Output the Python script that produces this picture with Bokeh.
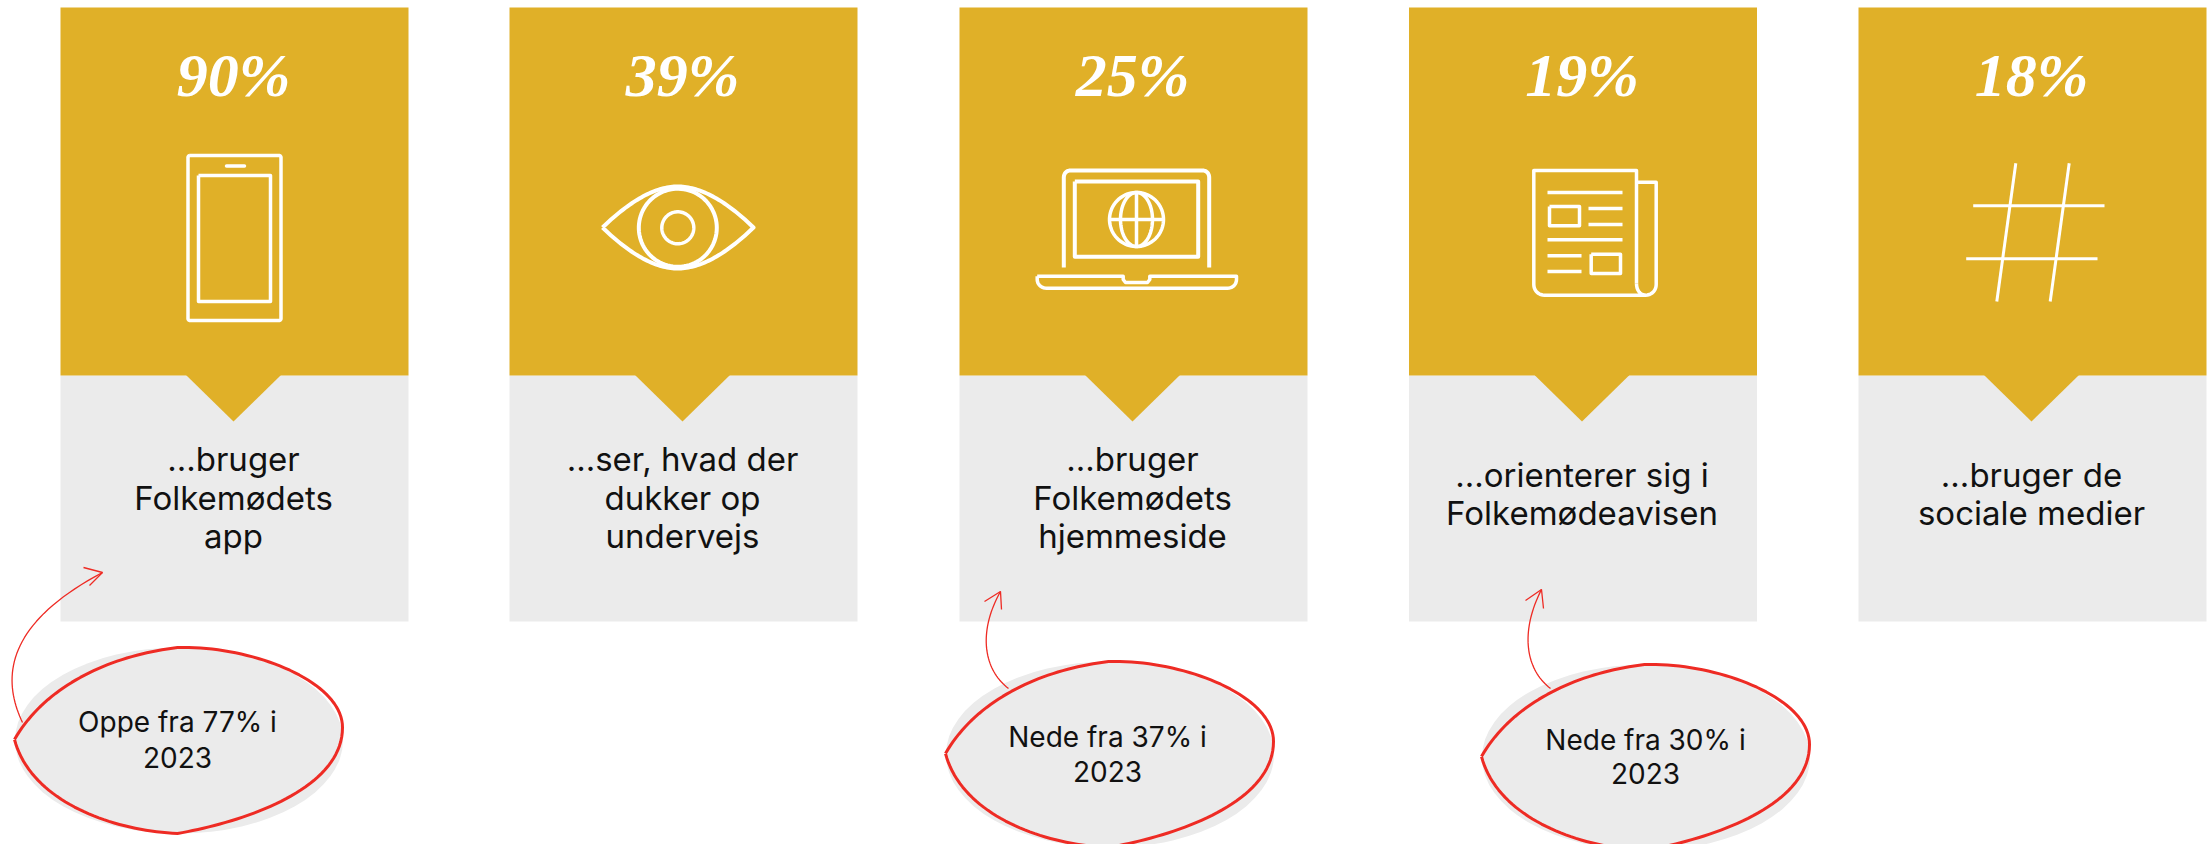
import numpy as np
from bokeh.plotting import figure
from bokeh.models import Range1d
from bokeh.core.properties import value
from bokeh.embed import file_html
from bokeh.resources import INLINE

# ---- data ----
percent_values = [90, 39, 25, 19, 18]
captions = [
    ["...bruger", "Folkemødets", "app"],
    ["...ser, hvad der", "dukker op", "undervejs"],
    ["...bruger", "Folkemødets", "hjemmeside"],
    ["...orienterer sig i", "Folkemødeavisen"],
    ["...bruger de", "sociale medier"],
]
note_lines = [
    ["Oppe fra 77% i", "2023"],
    ["Nede fra 37% i", "2023"],
    ["Nede fra 30% i", "2023"],
]

# ---- style / layout ----
GOLD, GREY, RED, INK, WHITE = "#E0B028", "#EBEBEB", "#EE2B24", "#111111", "#FFFFFF"
SERIF, SANS = "Liberation Serif", "Inter"
PCT_SIZE, CAP_SIZE, NOTE_SIZE = 62, 33, 28
BASE_FIX = 0.36  # the text box sits this far (in em) below the requested baseline
PANEL_LEFT = [60, 509, 959, 1408.5, 1858]
PANEL_W = 348
TOP, SPLIT, BOTTOM = 7, 375, 621
NOTCH_HALF, NOTCH_TIP = 47, 421
NOTE_ORIGIN = [(0, 0), (931, 14), (1467, 17)]
NOTE_TEXT = [(177, 732, 767), (1107, 747, 781), (1645, 750, 783)]

p = figure(width=2209, height=844, output_backend="svg", toolbar_location=None,
           x_range=Range1d(0, 2209), y_range=Range1d(844, 0), min_border=0)
p.axis.visible = False
p.grid.visible = False
p.outline_line_color = None


def bez(a, b, c, d, n=40):
    t = np.linspace(0, 1, n)[:, None]
    a, b, c, d = map(np.array, (a, b, c, d))
    pts = (1-t)**3*a + 3*(1-t)**2*t*b + 3*(1-t)*t**2*c + t**3*d
    return list(pts[:, 0]), list(pts[:, 1])


def chain(*segs):
    xs, ys = [], []
    for sx, sy in segs:
        xs += list(sx)
        ys += list(sy)
    return xs, ys


def stroke(xs, ys, w=3.5, color=WHITE):
    p.line(xs, ys, line_color=color, line_width=w, line_join="round", line_cap="butt")


def rrect(x0, y0, x1, y1, r, w=3.5):
    k = 0.55 * r
    xs, ys = chain(
        ([x0+r, x1-r], [y0, y0]), bez((x1-r, y0), (x1-r+k, y0), (x1, y0+r-k), (x1, y0+r), 10),
        ([x1, x1], [y0+r, y1-r]), bez((x1, y1-r), (x1, y1-r+k), (x1-r+k, y1), (x1-r, y1), 10),
        ([x1-r, x0+r], [y1, y1]), bez((x0+r, y1), (x0+r-k, y1), (x0, y1-r+k), (x0, y1-r), 10),
        ([x0, x0], [y1-r, y0+r]), bez((x0, y0+r), (x0, y0+r-k), (x0+r-k, y0), (x0+r, y0), 10),
    )
    stroke(xs, ys, w)


def circle_path(cx, cy, rx, ry, w=3.5):
    a = np.linspace(0, 2*np.pi, 90)
    stroke(list(cx + rx*np.cos(a)), list(cy + ry*np.sin(a)), w)


def label(x, base, txt, font, size, color, style="normal"):
    p.text([x], [base - BASE_FIX*size], text=[txt], text_font=value(font), text_font_style=style,
           text_font_size=f"{size}px", text_color=color, text_align="center", text_baseline="alphabetic")


# ---- panels ----
for left, pct, cap in zip(PANEL_LEFT, percent_values, captions):
    cx = left + PANEL_W/2 - 1
    p.quad(left=left, right=left+PANEL_W, top=SPLIT, bottom=BOTTOM, fill_color=GREY, line_color=None)
    p.patch([cx-NOTCH_HALF-1, cx-NOTCH_HALF, cx, cx+NOTCH_HALF, cx+NOTCH_HALF+1],
            [SPLIT-2, SPLIT, NOTCH_TIP, SPLIT, SPLIT-2], fill_color=GOLD, line_color=None)
    p.quad(left=left, right=left+PANEL_W, top=TOP, bottom=SPLIT, fill_color=GOLD, line_color=None)
    label(cx, 97, f"{pct}%", SERIF, PCT_SIZE, WHITE, "bold italic")
    first = 470.5 if len(cap) == 3 else 486
    for i, line in enumerate(cap):
        label(cx, first + i*38.5, line, SANS, CAP_SIZE, INK)

# ---- icon: phone ----
rrect(187.5, 155, 280.5, 320, 2)
rrect(198, 175, 270, 301, 0)
p.line([226, 244], [165.5, 165.5], line_color=WHITE, line_width=3.5, line_cap="round")

# ---- icon: eye ----
xs, ys = chain(bez((602, 227), (630, 200), (655, 186), (677, 186)), bez((677, 186), (700, 186), (725, 200), (753, 227)),
               bez((753, 227), (725, 254), (700, 268), (677, 268)), bez((677, 268), (655, 268), (630, 254), (602, 227)))
stroke(xs, ys, 4)
circle_path(677.3, 227.3, 39, 39, 4)
circle_path(677.3, 227.3, 16, 16, 3.5)

# ---- icon: laptop ----
xs, ys = chain(([1063.3, 1063.3], [267, 177]), bez((1063.3, 177), (1063.3, 173), (1066, 170), (1070, 170), 10),
               ([1070, 1202], [170, 170]), bez((1202, 170), (1206, 170), (1208.7, 173), (1208.7, 177), 10),
               ([1208.7, 1208.7], [177, 267]))
stroke(xs, ys, 4)
rrect(1074.3, 181, 1197.7, 256.3, 0, 4)
circle_path(1136, 219, 27, 27, 3.5)
circle_path(1136, 219, 16, 27, 3.5)
stroke([1136, 1136], [192, 246], 3.5)
stroke([1109, 1163], [219, 219], 3.5)
xs, ys = chain(([1036.7, 1122.7, 1122.7, 1125, 1147, 1149.3, 1149.3, 1236, 1236], [275.7, 275.7, 279, 282, 282, 279, 275.7, 275.7, 279]),
               bez((1236, 279), (1236, 284), (1232, 287.7), (1227, 287.7), 10), ([1227, 1046], [287.7, 287.7]),
               bez((1046, 287.7), (1041, 287.7), (1036.7, 284), (1036.7, 279), 10), ([1036.7], [275.7]))
stroke(xs, ys, 3.5)

# ---- icon: newspaper ----
xs, ys = chain(([1636, 1636, 1533.3, 1533.3], [283, 170, 170, 284]),
               bez((1533.3, 284), (1533.3, 290), (1538, 294.7), (1544, 294.7), 10), ([1544, 1645], [294.7, 294.7]))
stroke(xs, ys, 3.5)
xs, ys = chain(([1637.5, 1655.7, 1655.7], [181.7, 181.7, 284]), bez((1655.7, 284), (1655.7, 290), (1651, 294.7), (1645, 294.7), 10),
               bez((1645, 294.7), (1640, 294.7), (1636, 290), (1636, 283), 10))
stroke(xs, ys, 3.5)
for x0, x1, y in [(1547, 1622, 192), (1588, 1622, 208), (1588, 1622, 224), (1547, 1622, 239.3), (1547, 1581, 255.3), (1547, 1581, 271)]:
    stroke([x0, x1], [y, y], 3.5)
rrect(1549, 206, 1579, 225.3, 0)
rrect(1590.7, 253.7, 1620, 273, 0)

# ---- icon: hashtag ----
for x0, y0, x1, y1 in [(2015.3, 162.7, 1996.3, 301), (2068.7, 162.7, 2049.7, 301),
                       (1972.7, 205.3, 2104, 205.3), (1965.7, 258.3, 2097, 258.3)]:
    stroke([x0, x1], [y0, y1], 3)

# ---- notes ----
ARROWS = [
    [((22, 722), (2, 680), (2, 625), (102, 572)), (83, 567), (102, 572), (89, 585)],
    [((1008, 688), (982, 668), (978, 630), (1000, 591)), (984, 601), (1000, 591), (1001, 609)],
    [((1550, 688), (1524, 668), (1520, 630), (1541, 589)), (1525, 600), (1541, 589), (1543, 608)],
]
for (dx, dy), lines, (tx, y1, y2), arrow in zip(NOTE_ORIGIN, note_lines, NOTE_TEXT, ARROWS):
    p.ellipse([178.5+dx], [740+dy], width=328, height=186, fill_color=GREY, line_color=None)
    (a, b, c, d), h0, h1, h2 = arrow
    ax, ay = bez(a, b, c, d)
    p.line(ax, ay, line_color=RED, line_width=1.3)
    p.line([h0[0], h1[0], h2[0]], [h0[1], h1[1], h2[1]], line_color=RED, line_width=1.3)
    segs = [((14, 739), (45, 685), (110, 655), (177, 647)), ((177, 647), (250, 645), (342, 680), (342, 727)),
            ((342, 727), (342, 790), (240, 822), (177, 833)), ((177, 833), (110, 830), (30, 800), (14, 739))]
    parts = [bez(*[(x+dx, y+dy) for x, y in s]) for s in segs]
    xs, ys = chain(*parts)
    p.line(xs, ys, line_color=RED, line_width=3, line_join="round")
    for line, y in zip(lines, (y1, y2)):
        label(tx, y, line, SANS, NOTE_SIZE, INK)

open("out.html", "w").write(file_html(p, INLINE))
